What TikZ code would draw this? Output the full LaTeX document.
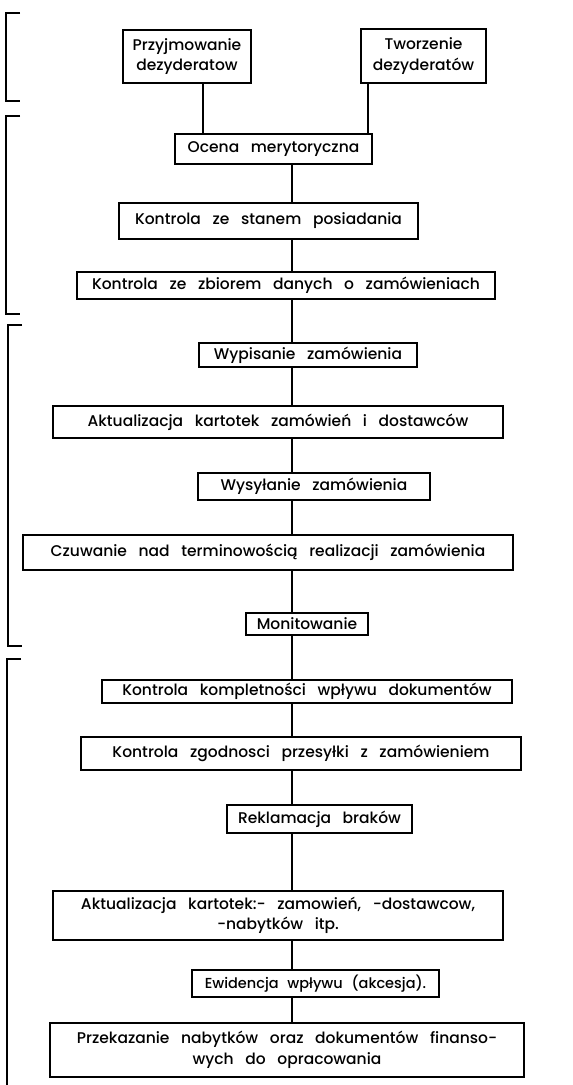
\documentclass[tikz,border=0pt]{standalone}
\usepackage{fontspec}
\setmainfont{Poppins Medium}
\newcommand\boxfont{\fontsize{15.5}{20.5}\selectfont\spaceskip=0.75em plus 0.1em minus 0.1em\relax}
\newcommand\smallboxfont{\fontsize{14.5}{19}\selectfont\spaceskip=0.6em plus 0.1em minus 0.1em\relax}
\begin{document}
\begin{tikzpicture}[x=1pt,y=-1pt,
  box/.style={draw,line width=1.8pt,rectangle,inner sep=0pt,align=center,font=\boxfont},
  conn/.style={line width=2pt},
  brk/.style={line width=1.8pt}]
\useasboundingbox (0,0) rectangle (573,1085);
\coordinate (spine) at (292,0);
\node[box,minimum width=128pt,minimum height=53pt] (przyj) at (187,56.5) {Przyjmowanie\\dezyderatow};
\node[box,minimum width=125pt,minimum height=54pt] (tworz) at (423.5,56) {Tworzenie\\dezyderatów};
\node[box,minimum width=197pt,minimum height=30pt] (ocena) at (273.5,149) {Ocena merytoryczna};
\node[box,minimum width=299pt,minimum height=36pt] (kst) at (268.5,221) {Kontrola ze stanem posiadania};
\node[box,minimum width=418pt,minimum height=27pt] (kzb) at (286,285.5) {Kontrola ze zbiorem danych o zamówieniach};
\node[box,minimum width=218pt,minimum height=24pt] (wyp) at (308,355) {Wypisanie zamówienia};
\node[box,minimum width=450pt,minimum height=32pt] (akt) at (278,422) {Aktualizacja kartotek zamówień i dostawców};
\node[box,minimum width=232pt,minimum height=27pt] (wys) at (314,486.5) {Wysyłanie zamówienia};
\node[box,minimum width=490pt,minimum height=35pt] (czu) at (268,552.5) {Czuwanie nad terminowością realizacji zamówienia};
\node[box,minimum width=122pt,minimum height=22pt] (mon) at (307,624) {Monitowanie};
\node[box,minimum width=410pt,minimum height=23pt] (kk) at (307,691.5) {Kontrola kompletności wpływu dokumentów};
\node[box,minimum width=440pt,minimum height=33pt] (kz) at (301,753.5) {Kontrola zgodnosci przesyłki z zamówieniem};
\node[box,minimum width=185pt,minimum height=28pt] (rek) at (319.5,819) {Reklamacja braków};
\node[box,minimum width=450pt,minimum height=49pt] (akt2) at (278,915.5) {Aktualizacja kartotek:- zamowień, -dostawcow,\\-nabytków itp.};
\node[box,font=\smallboxfont,minimum width=247pt,minimum height=27pt] (ewi) at (315.5,983.5) {Ewidencja wpływu (akcesja).};
\node[box,minimum width=474pt,minimum height=54pt] (prz) at (287,1050) {Przekazanie nabytków oraz dokumentów finanso-\\wych do opracowania};
% connectors
\draw[conn] (przyj.south) ++(16,0) coordinate (p1) -- (p1 |- ocena.north);
\draw[conn] (tworz.south) ++(-55.5,0) coordinate (t1) -- (t1 |- ocena.north);
\foreach \a/\b in {ocena/kst,kst/kzb,kzb/wyp,wyp/akt,akt/wys,wys/czu,czu/mon,mon/kk,kk/kz,kz/rek,rek/akt2,akt2/ewi,ewi/prz}
  \draw[conn] (spine |- \a.south) -- (spine |- \b.north);
% brackets
\draw[brk] (20,13) -| (6,101) -- (20,101);
\draw[brk] (20,116) -| (6,314) -- (20,314);
\draw[brk] (22,325) -| (8,646) -- (22,646);
\draw[brk] (21,659) -| (7,1085);
\end{tikzpicture}
\end{document}
